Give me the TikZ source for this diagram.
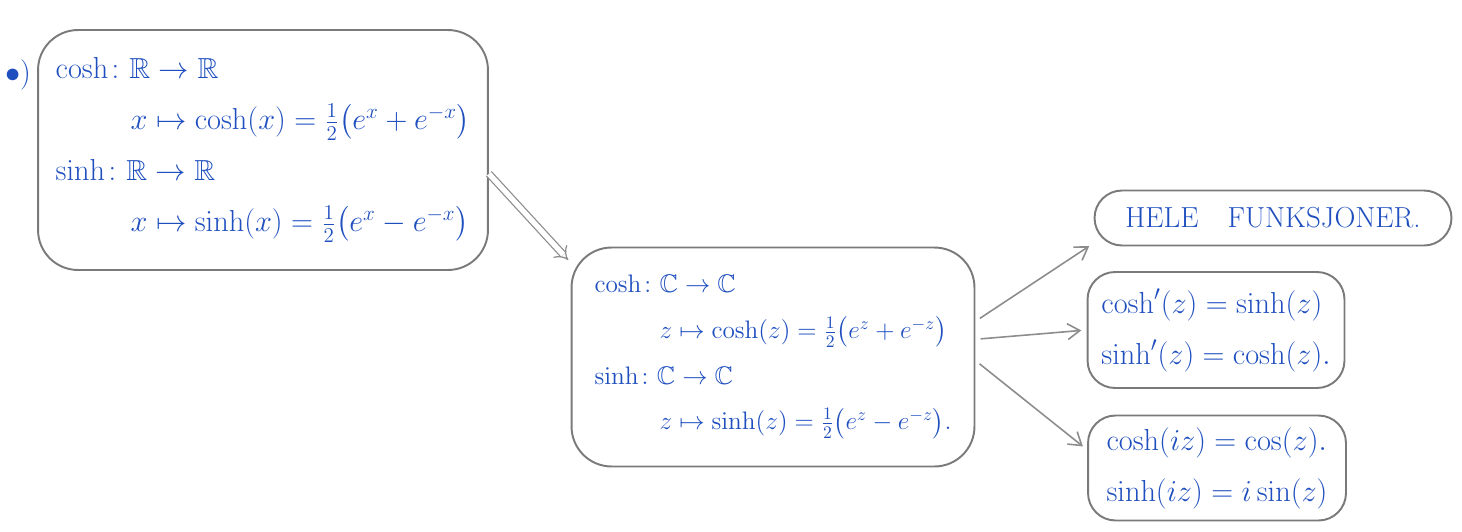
\documentclass[tikz,border=0pt]{standalone}
\usepackage{amsmath,amssymb}
\usepackage{xcolor}
\usepackage{tikz}
\usetikzlibrary{arrows.meta, positioning}
\definecolor{hwBlue}{HTML}{1F4FBF}
\definecolor{hwLine}{HTML}{7A7A7A}
\definecolor{hwArrow}{HTML}{8C8C8C}

\begin{document}
\begin{tikzpicture}[
  x=0.02cm, y=-0.02cm,
  font=\fontsize{16.5}{29}\selectfont,
  bigbox/.style={draw=hwLine, line width=1.1pt, rounded corners=0.8cm, align=left,
                 text=hwBlue, inner sep=0pt},
  smallbox/.style={draw=hwLine, line width=1.1pt, rounded corners=0.55cm, align=left,
                   text=hwBlue, inner sep=0pt},
  arr/.style={draw=hwArrow, line width=0.9pt, -{Straight Barb[length=7pt,width=9pt]},
              shorten >=3pt, shorten <=3pt},
  impl/.style={draw=hwArrow, line width=0.7pt, double, double distance=3pt, -{Implies},
               shorten >=2pt},
]
\useasboundingbox (0,0) rectangle (1462,531);

\node[text=hwBlue] (dot) at (18,75) {$\bullet)$};

% real functions
\node[bigbox, minimum width=9cm, minimum height=4.8cm] (real) at (263,150)
  {$\cosh\colon \mathbb{R}\to\mathbb{R}$\\
   \hspace*{1.5cm}$x\mapsto\cosh(x)=\tfrac{1}{2}\bigl(e^{x}+e^{-x}\bigr)$\\
   $\sinh\colon \mathbb{R}\to\mathbb{R}$\\
   \hspace*{1.5cm}$x\mapsto\sinh(x)=\tfrac{1}{2}\bigl(e^{x}-e^{-x}\bigr)$};

% complex functions
\node[bigbox, minimum width=8.06cm, minimum height=4.38cm,
      font=\fontsize{14.5}{26}\selectfont] (cplx) at (773,357)
  {$\cosh\colon \mathbb{C}\to\mathbb{C}$\\
   \hspace*{1.3cm}$z\mapsto\cosh(z)=\tfrac{1}{2}\bigl(e^{z}+e^{-z}\bigr)$\\
   $\sinh\colon \mathbb{C}\to\mathbb{C}$\\
   \hspace*{1.3cm}$z\mapsto\sinh(z)=\tfrac{1}{2}\bigl(e^{z}-e^{-z}\bigr).$};

% properties
\node[smallbox, minimum width=7.14cm, minimum height=1.1cm] (entire) at (1273,218)
  {HELE\quad FUNKSJONER.};
\node[smallbox, minimum width=5.14cm, minimum height=2.32cm] (deriv) at (1216,330)
  {$\cosh'(z)=\sinh(z)$\\ $\sinh'(z)=\cosh(z).$};
\node[smallbox, minimum width=5.16cm, minimum height=2.1cm] (trig) at (1217,468)
  {$\cosh(iz)=\cos(z).$\\ $\sinh(iz)=i\sin(z)$};

\draw[impl] (real.-6) -- (cplx.155);
\draw[arr] (cplx.10) -- (entire.188);
\draw[arr] (cplx.5) -- (deriv.west);
\draw[arr] (cplx.-1) -- (trig.172);
\end{tikzpicture}
\end{document}
